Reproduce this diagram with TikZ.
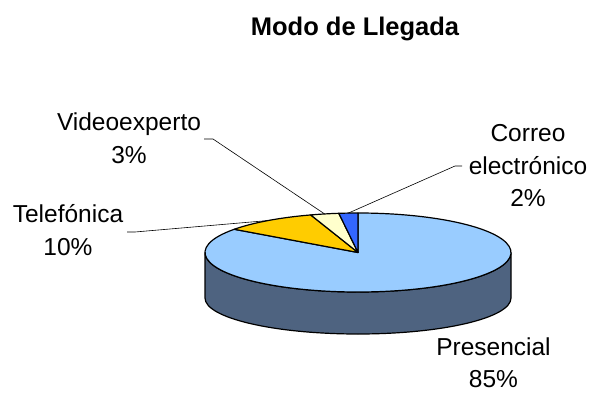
\documentclass[tikz,border=0pt]{standalone}
\usepackage{fontspec}
\setmainfont{Liberation Sans}
\usetikzlibrary{calc}
\definecolor{presTop}{RGB}{153,204,255}
\definecolor{presSide}{RGB}{78,99,128}
\definecolor{telef}{RGB}{255,204,0}
\definecolor{video}{RGB}{255,255,204}
\definecolor{correo}{RGB}{51,102,255}
\tikzset{
  slice/.style={draw=black, line width=1.2pt, line join=round},
  leader/.style={draw=black, line width=0.6pt},
  lbl/.style={align=center, font=\fontsize{24.5}{32.5}\selectfont, inner sep=0pt, anchor=base},
  ttl/.style={font=\fontsize{25.5}{30}\selectfont\bfseries, inner sep=0pt, anchor=base}
}
\begin{document}
\begin{tikzpicture}[x=1pt,y=1pt]
\useasboundingbox (0,0) rectangle (592,392);
% geometry
\coordinate (c) at (358,139.5);
\coordinate (cb) at (358,94);
% side
\coordinate (tl) at ($(c)+(-153,0)$);
\coordinate (bl) at ($(cb)+(-153,0)$);
\coordinate (tr) at ($(c)+(153,0)$);
\path[slice, fill=presSide] (tl) -- (bl) arc[start angle=180, end angle=360, x radius=153, y radius=36] -- (tr) arc[start angle=0, end angle=-180, x radius=153, y radius=39.5] -- cycle;
% top slices
\path[slice, fill=presTop] (c) -- ($(c)+(144:153 and 39.5)$) arc[start angle=144, end angle=450, x radius=153, y radius=39.5] -- cycle;
\path[slice, fill=telef] (c) -- ($(c)+(108:153 and 39.5)$) arc[start angle=108, end angle=144, x radius=153, y radius=39.5] -- cycle;
\path[slice, fill=video] (c) -- ($(c)+(97.2:153 and 39.5)$) arc[start angle=97.2, end angle=108, x radius=153, y radius=39.5] -- cycle;
\path[slice, fill=correo] (c) -- ($(c)+(90:153 and 39.5)$) arc[start angle=90, end angle=97.2, x radius=153, y radius=39.5] -- cycle;
% leader anchor points
\coordinate (mc) at ($(c)+(93.6:153 and 39.5)$);
\coordinate (mv) at ($(c)+(102.6:153 and 39.5)$);
\coordinate (mt) at ($(c)+(126:153 and 39.5)$);
% title
\node[ttl] (title) at (355,356) {Modo de Llegada};
% labels (anchor base = baseline of last line)
\node[lbl] (lv) at (129,229) {Videoexperto\\3\%};
\node[lbl] (lt) at (68,137) {Telefónica\\10\%};
\node[lbl] (lc) at (528,185.3) {Correo\\electrónico\\2\%};
\node[lbl] (lp) at (493.5,4.5) {Presencial\\85\%};
% leaders
\coordinate (v1) at (204,253);
\coordinate (v2) at (213,253);
\draw[leader] (v1) -- (v2) -- (mv);
\coordinate (c1) at (462,226);
\coordinate (c2) at (455,226);
\draw[leader] (c1) -- (c2) -- (mc);
\coordinate (t1) at (127,160);
\coordinate (t2) at (135,160);
\draw[leader] (t1) -- (t2) -- (mt);
\end{tikzpicture}
\end{document}
